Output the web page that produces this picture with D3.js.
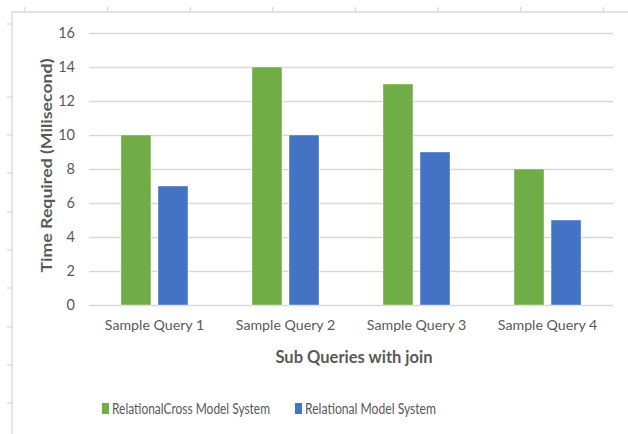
<!DOCTYPE html>
<html><head><meta charset="utf-8">
<script src="https://cdn.jsdelivr.net/npm/d3@7"></script>
<style>body{margin:0;background:#fff}svg{display:block}</style>
</head><body>
<script>
const categories = ["Sample Query 1", "Sample Query 2", "Sample Query 3", "Sample Query 4"];
const seriesNames = ["RelationalCross Model System", "Relational Model System"];
const crossValues = [10, 14, 13, 8];
const relationalValues = [7, 10, 9, 5];
const yTicks = [0, 2, 4, 6, 8, 10, 12, 14, 16];
const colors = ["#70AD47", "#4472C4"];

const W = 628, H = 434;
const svg = d3.select("body").append("svg").attr("width", W).attr("height", H);
const font = "Lato, 'Open Sans', sans-serif";
const txt = "#595959";

// outer frame (ruler-like)
const frame = svg.append("g").attr("stroke", "#d9d9d9").attr("stroke-width", 1.3);
frame.append("line").attr("x1", 12).attr("x2", W).attr("y1", 12).attr("y2", 12);
frame.append("line").attr("x1", 12).attr("x2", 12).attr("y1", 12).attr("y2", H);
const topTicks = d3.range(8).map(i => 25 + i * 82.6);
frame.selectAll(".tt").data(topTicks).join("line")
  .attr("x1", d => d).attr("x2", d => d).attr("y1", 7).attr("y2", 12);
const leftTicks = [24, 97, 135, 173, 212, 250, 288, 327, 365, 403];
frame.selectAll(".lt").data(leftTicks).join("line")
  .attr("x1", 7).attr("x2", 12).attr("y1", d => d).attr("y2", d => d);

const pL = 89, pR = 613, pT = 33, pB = 305;
const y = d3.scaleLinear().domain([0, 16]).range([pB, pT]);
const x0 = d3.scaleBand().domain(categories).range([pL, pR]).paddingInner(0.4885).paddingOuter(0.244);
const x1 = d3.scaleBand().domain(seriesNames).range([0, x0.bandwidth()]).paddingInner(0.19);

// gridlines
const yAxis = d3.axisLeft(y).tickValues(yTicks).tickSize(-(pR - pL)).tickPadding(14);
const ga = svg.append("g").attr("transform", `translate(${pL},0)`).call(yAxis);
ga.select(".domain").remove();
ga.selectAll(".tick line").attr("stroke", "#d9d9d9").attr("stroke-width", 1.3);
ga.selectAll(".tick text").attr("fill", txt).attr("font-family", font).attr("font-size", 14.5);

// x axis
const xa = svg.append("g").attr("transform", `translate(0,${pB})`).call(d3.axisBottom(x0).tickSize(0).tickPadding(15));
xa.select(".domain").remove();
xa.selectAll(".tick text").attr("fill", txt).attr("font-family", font).attr("font-size", 14.2);

// bars
const data = categories.map((c, i) => ({cat: c, vals: [crossValues[i], relationalValues[i]]}));
svg.append("g").selectAll("g").data(data).join("g")
  .attr("transform", d => `translate(${x0(d.cat)},0)`)
  .selectAll("rect").data(d => d.vals.map((v, j) => ({v, s: seriesNames[j], j})))
  .join("rect")
  .attr("x", d => x1(d.s)).attr("width", x1.bandwidth())
  .attr("y", d => y(d.v)).attr("height", d => y(0) - y(d.v))
  .attr("fill", d => colors[d.j])
  .attr("stroke", "#ffffff").attr("stroke-opacity", 0.5).attr("stroke-width", 0.8);

// axis titles
svg.append("text").attr("transform", `translate(52,165.5) rotate(-90)`)
  .attr("text-anchor", "middle").attr("font-family", font).attr("font-weight", "bold")
  .attr("font-size", 15.6).attr("fill", txt)
  .attr("textLength", 214).attr("lengthAdjust", "spacingAndGlyphs")
  .text("Time Required (Milisecond)");
svg.append("text").attr("x", 354).attr("y", 363)
  .attr("text-anchor", "middle").attr("font-family", font).attr("font-weight", "bold")
  .attr("font-size", 16.5).attr("fill", txt).text("Sub Queries with join");

// legend
const legX = [102, 295];
const legLen = [158, 131];
const lg = svg.append("g").selectAll("g").data(seriesNames).join("g")
  .attr("transform", (d, i) => `translate(${legX[i]},403)`);
lg.append("rect").attr("width", 7).attr("height", 11).attr("fill", (d, i) => colors[i]);
lg.append("text").attr("x", 10).attr("y", 11).attr("font-family", font).attr("font-size", 14.5)
  .attr("textLength", (d, i) => legLen[i]).attr("lengthAdjust", "spacingAndGlyphs")
  .attr("fill", txt).text(d => d);
</script>
</body></html>
